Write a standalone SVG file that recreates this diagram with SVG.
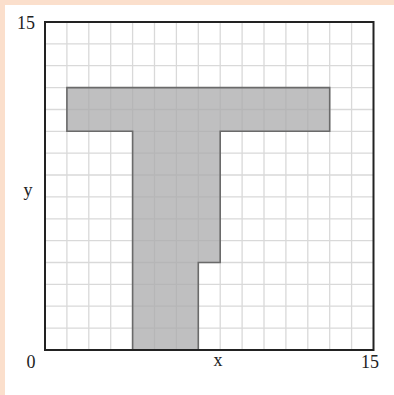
<svg xmlns="http://www.w3.org/2000/svg" width="394" height="395" viewBox="0 0 394 395">
<style>
.g{stroke:#d9d9d9;stroke-width:1.3;fill:none}
.t{font-family:"Liberation Serif",serif;font-size:18px;fill:#222}
</style>
<rect width="394" height="395" fill="#fbdfcc"/>
<rect x="5" y="5" width="389" height="390" fill="#fff"/>
<g id="grid" class="g">
<path d="M66.9 22V350M88.8 22V350M110.7 22V350M132.6 22V350M154.5 22V350M176.4 22V350M198.3 22V350M220.2 22V350M242.1 22V350M264 22V350M285.9 22V350M307.8 22V350M329.7 22V350M351.6 22V350"/>
<path d="M45 43.9H373.5M45 65.7H373.5M45 87.6H373.5M45 109.5H373.5M45 131.3H373.5M45 153.2H373.5M45 175H373.5M45 196.9H373.5M45 218.8H373.5M45 240.7H373.5M45 262.5H373.5M45 284.4H373.5M45 306.2H373.5M45 328.1H373.5"/>
</g>
<g id="shape">
<path d="M66.9 87.6H329.7V131.3H220.2V262.5H198.3V350H132.6V131.3H66.9Z" fill="#a9a9ab" fill-opacity="0.75" stroke="#6a6a6a" stroke-width="1.6"/>
</g>
<g id="frame">
<rect x="45" y="22" width="328.5" height="328" fill="none" stroke="#222" stroke-width="2"/>
</g>
<g id="labels" class="t">
<text x="26" y="28.5" text-anchor="middle">15</text>
<text x="370" y="368" text-anchor="middle">15</text>
<text x="31" y="368" text-anchor="middle">0</text>
<text x="218" y="366" text-anchor="middle">x</text>
<text x="28" y="196" text-anchor="middle">y</text>
</g>
</svg>
